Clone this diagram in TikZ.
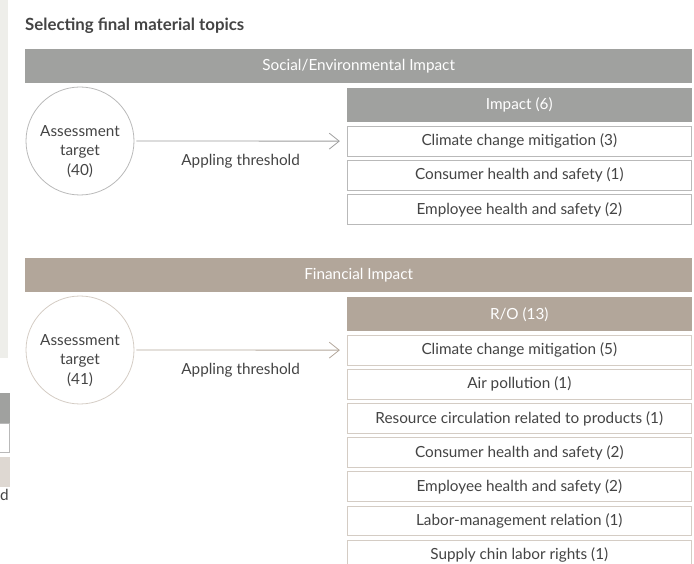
\documentclass[tikz,border=0pt]{standalone}
\usepackage{fontspec}
\setmainfont{Lato}
\usepackage{tikz}
\usetikzlibrary{arrows.meta,positioning}
\definecolor{barGrey}{RGB}{160,161,159}
\definecolor{barBeige}{RGB}{178,166,154}
\definecolor{lineGrey}{RGB}{185,185,185}
\definecolor{lineBeige}{RGB}{212,204,196}
\definecolor{inkGrey}{RGB}{68,68,68}
\definecolor{sideFill}{RGB}{238,238,234}
\definecolor{sideBeige}{RGB}{222,216,210}
\tikzset{>={Straight Barb[length=10pt,width=16pt]},node distance=3.6pt}
\tikzset{
    topbar/.style={fill=#1,text=white,minimum width=667pt,minimum height=34pt,
        inner sep=0pt,anchor=north west,font=\fontsize{15.3}{17}\selectfont},
    headbox/.style={fill=#1,text=white,minimum width=345pt,minimum height=34pt,
        inner sep=0pt,anchor=north east,font=\fontsize{15.3}{17}\selectfont},
    topicbox/.style={draw=#1,fill=white,text=inkGrey,minimum width=344pt,minimum height=29.6pt,
        inner sep=0pt,line width=0.9pt,font=\fontsize{15.3}{17}\selectfont},
    target/.style={circle,draw=#1,line width=0.8pt,minimum size=108pt,inner sep=0pt},
    targettext/.style={text=inkGrey,align=center,font=\fontsize{15.3}{19.5}\selectfont},
    link/.style={draw=#1,line width=0.8pt,->,shorten >=7pt,shorten <=2pt},
    thresh/.style={midway,below=9pt,text=inkGrey,font=\fontsize{15.3}{17}\selectfont}
}

\begin{document}
\begin{tikzpicture}[x=1pt,y=-1pt]
    \useasboundingbox (0,0) rectangle (694,564);
    \clip (0,0) rectangle (694,564);
    % cut-off pieces at the left edge
    \fill[sideFill] (0,0) rectangle (8,358);
    \fill[barGrey] (0,393) rectangle (10,423);
    \draw[lineGrey,line width=0.9pt] (-2,423.5) rectangle (9.5,452);
    \fill[sideBeige] (0,457) rectangle (10,487);
    \node[anchor=base east,inner sep=0pt,text=inkGrey,font=\fontsize{15.3}{17}\selectfont] (cut) at (9,500) {d};

    \node[anchor=base west,inner sep=0pt,text=inkGrey,font=\fontsize{16.8}{19}\selectfont\bfseries] (title) at (25,31)
        {Selecting final material topics};

    % social / environmental
    \node[topbar=barGrey] (social) at (25,49) {Social/Environmental Impact};
    \node[headbox=barGrey] (impact) at (692,88) {Impact (6)};
    \node[topicbox=lineGrey,below=of impact] (imp1) {Climate change mitigation (3)};
    \node[topicbox=lineGrey,below=of imp1] (imp2) {Consumer health and safety (1)};
    \node[topicbox=lineGrey,below=of imp2] (imp3) {Employee health and safety (2)};
    \node[target=lineGrey] (tgt1) at (80,141) {};
    \node[targettext] at ([yshift=-10.5pt]tgt1.center) {Assessment\\target\\(40)};
    \draw[link=lineGrey!85!black] (tgt1) -- node[thresh] {Appling threshold} (imp1);

    % financial
    \node[topbar=barBeige] (financial) at (25,258) {Financial Impact};
    \node[headbox=barBeige] (ro) at (692,297) {R/O (13)};
    \node[topicbox=lineBeige,below=of ro] (ro1) {Climate change mitigation (5)};
    \node[topicbox=lineBeige,below=of ro1] (ro2) {Air pollution (1)};
    \node[topicbox=lineBeige,below=of ro2] (ro3) {Resource circulation related to products (1)};
    \node[topicbox=lineBeige,below=of ro3] (ro4) {Consumer health and safety (2)};
    \node[topicbox=lineBeige,below=of ro4] (ro5) {Employee health and safety (2)};
    \node[topicbox=lineBeige,below=of ro5] (ro6) {Labor-management relation (1)};
    \node[topicbox=lineBeige,below=of ro6] (ro7) {Supply chin labor rights (1)};
    \node[target=lineBeige] (tgt2) at (80,350) {};
    \node[targettext] at ([yshift=-10.5pt]tgt2.center) {Assessment\\target\\(41)};
    \draw[link=barBeige] (tgt2) -- node[thresh] {Appling threshold} (ro1);
\end{tikzpicture}
\end{document}
